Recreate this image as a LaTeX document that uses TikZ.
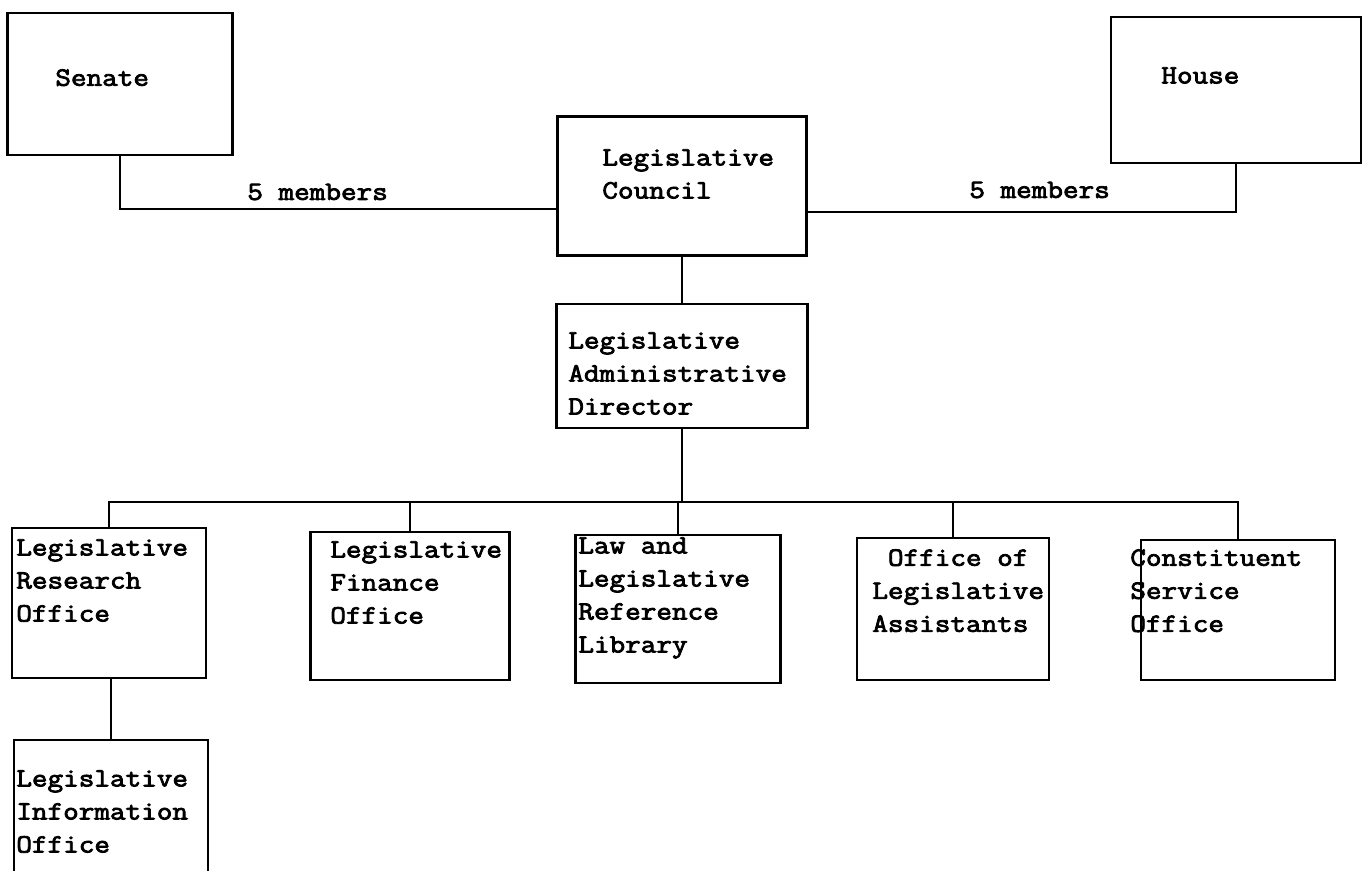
\documentclass[tikz,border=0pt]{standalone}
\usepackage{fontspec}
\newfontfamily\typew{Latin Modern Mono}[FakeStretch=1.15,FakeBold=3]
\usetikzlibrary{positioning}

\begin{document}
\begin{tikzpicture}[x=0.02cm,y=-0.02cm,
    box/.style={draw,line width=1.3pt,inner sep=0pt},
    txt/.style={anchor=north west,align=left,inner sep=0pt,
      font=\typew\fontsize{15}{18.8}\selectfont},
    link/.style={line width=1.6pt}]

  \path[use as bounding box,clip] (0,0) rectangle (1364,871);

  % chambers and council
  \node[box,minimum width=4.5cm,minimum height=2.84cm] (sen) at (120,84) {};
  \node[box,minimum width=5cm,minimum height=2.92cm] (hou) at (1236,90) {};
  \node[box,minimum width=4.98cm,minimum height=2.78cm] (coun) at (682,186) {};
  \node[box,minimum width=5.02cm,minimum height=2.48cm] (dir) at (682,366) {};

  % offices
  \node[box,minimum width=3.88cm,minimum height=3cm] (res) at (109,603) {};
  \node[box,minimum width=3.98cm,minimum height=2.96cm] (fin) at (410,606) {};
  \node[box,minimum width=4.1cm,minimum height=2.96cm] (law) at (678,609) {};
  \node[box,minimum width=3.84cm,minimum height=2.84cm] (ast) at (953,609) {};
  \node[box,minimum width=3.88cm,minimum height=2.8cm] (con) at (1238,610) {};
  \node[box,minimum width=3.88cm,minimum height=3.2cm] (info) at (111,820) {};

  % texts
  \node[txt] (senT) at (55,69) {Senate};
  \node[txt] (houT) at (1161,67) {House};
  \node[txt] (counT) at (602,149) {Legislative\\Council};
  \node[txt] (dirT) at (568,332) {Legislative\\Administrative\\Director};
  \node[txt] (resT) at (16,539) {Legislative\\Research\\Office};
  \node[txt] (finT) at (330,541) {Legislative\\Finance\\Office};
  \node[txt] (lawT) at (578,537) {Law and\\Legislative\\Reference\\Library};
  \node[txt] (astT) at (872,549) {\phantom{O}Office of\\Legislative\\Assistants};
  \node[txt] (conT) at (1130,549) {Constituent\\Service\\Office};
  \node[txt] (infoT) at (16,770) {Legislative\\Information\\Office};

  \node[txt,anchor=west] (memL) at (247,192) {5 members};
  \node[txt,anchor=west] (memR) at (969,190) {5 members};

  % connectors
  \draw[link] (sen.south) |- ([yshift=-0.46cm]coun.west);
  \draw[link] (hou.south) |- ([yshift=-0.52cm]coun.east);
  \draw[link] (coun.south) -- (dir.north);

  \coordinate (bus) at (682,502);
  \draw[link] (dir.south) -- (bus);
  \draw[link] (res.north) -- (res.north |- bus) -| (con.north);
  \draw[link] (fin.north) -- (fin.north |- bus);
  \draw[link] (law.north) -- (law.north |- bus);
  \draw[link] (ast.north) -- (ast.north |- bus);
  \draw[link] (res.south -| info.north) -- (info.north);

\end{tikzpicture}
\end{document}
